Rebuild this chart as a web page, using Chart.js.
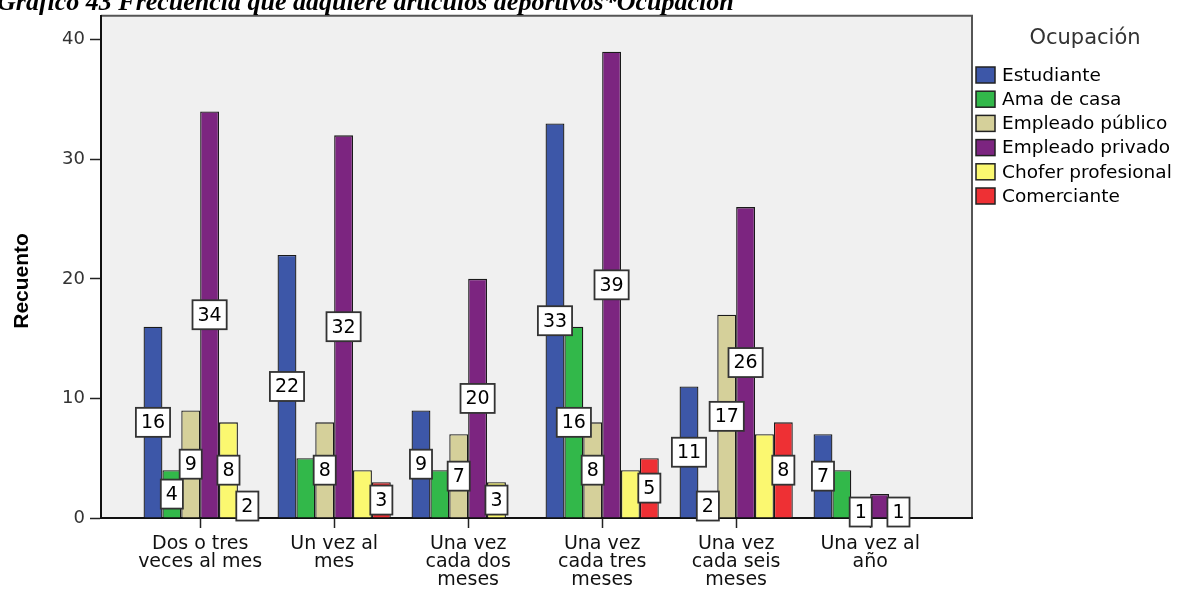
<!DOCTYPE html>
<html>
<head>
<meta charset="utf-8">
<script src="https://cdn.jsdelivr.net/npm/chart.js@4/dist/chart.umd.min.js"></script>
<style>
  html, body { margin: 0; padding: 0; background: #ffffff; }
  #wrap { width: 1196px; height: 589px; position: relative; }
</style>
</head>
<body>
<div id="wrap"><canvas id="c" width="1196" height="589"></canvas></div>
<script>
// ---- Data ----
const categories = [
  ["Dos o tres", "veces al mes"],
  ["Un vez al", "mes"],
  ["Una vez", "cada dos", "meses"],
  ["Una vez", "cada tres", "meses"],
  ["Una vez", "cada seis", "meses"],
  ["Una vez al", "año"]
];
const seriesNames = ["Estudiante", "Ama de casa", "Empleado público", "Empleado privado", "Chofer profesional", "Comerciante"];
const estudiante  = [16, 22, 9, 33, 11, 7];
const amaDeCasa   = [4, 5, 4, 16, 2, 4];
const empPublico  = [9, 8, 7, 8, 17, 1];
const empPrivado  = [34, 32, 20, 39, 26, 2];
const chofer      = [8, 4, 3, 4, 7, 1];
const comerciante = [2, 3, 0, 5, 8, 0];
// which value labels are shown in the reference (1 = shown)
const showEstudiante  = [1, 1, 1, 1, 1, 1];
const showAmaDeCasa   = [1, 0, 0, 1, 1, 0];
const showEmpPublico  = [1, 1, 1, 1, 1, 1];
const showEmpPrivado  = [1, 1, 1, 1, 1, 0];
const showChofer      = [1, 0, 1, 0, 0, 1];
const showComerciante = [1, 1, 0, 1, 1, 0];
const yTicks = [0, 10, 20, 30, 40];
const titleText = "Gráfico 43 Frecuencia que adquiere artículos deportivos*Ocupación";
const yTitle = "Recuento";
const legendTitle = "Ocupación";

// ---- Styles ----
const colors = ["#3d57a8", "#32b84a", "#d5d09a", "#7c2580", "#fbf870", "#ee3034"];
const allSeries = [estudiante, amaDeCasa, empPublico, empPrivado, chofer, comerciante];
const allShow = [showEstudiante, showAmaDeCasa, showEmpPublico, showEmpPrivado, showChofer, showComerciante];

const datasets = allSeries.map((vals, s) => ({
  label: seriesNames[s],
  data: vals.map((v, i) => ({ x: i, y: v })),
  backgroundColor: colors[s],
  borderColor: "#1a1a1a",
  borderWidth: 1.3,
  borderSkipped: "bottom",
  categoryPercentage: 0.845,
  barPercentage: 1.0
}));

const FONT = "'DejaVu Sans', 'Liberation Sans', Arial, sans-serif";
const AFONT = "'Liberation Sans', Arial, sans-serif";

const framePlugin = {
  id: "frame",
  beforeDraw(chart) {
    const { ctx, chartArea: a } = chart;
    ctx.save();
    ctx.fillStyle = "#ffffff";
    ctx.fillRect(0, 0, chart.width, chart.height);
    ctx.fillStyle = "#f0f0f0";
    ctx.fillRect(a.left, a.top, a.right - a.left, a.bottom - a.top);
    ctx.strokeStyle = "#555555";
    ctx.lineWidth = 2;
    ctx.beginPath();
    ctx.moveTo(a.left, a.top);
    ctx.lineTo(a.right, a.top);
    ctx.lineTo(a.right, a.bottom);
    ctx.stroke();
    ctx.restore();
  },
  afterDraw(chart) {
    const { ctx, chartArea: a } = chart;
    ctx.save();
    // title (cut at top like the reference)
    ctx.fillStyle = "#000";
    ctx.font = "italic bold 26px 'Liberation Serif', 'Times New Roman', serif";
    ctx.textBaseline = "alphabetic";
    ctx.textAlign = "left";
    ctx.fillText(titleText, -3, 10);
    // y axis title
    ctx.translate(22, (a.top + a.bottom) / 2 + 14);
    ctx.rotate(-Math.PI / 2);
    ctx.font = "bold 21px " + AFONT;
    ctx.textAlign = "center";
    ctx.textBaseline = "middle";
    ctx.fillText(yTitle, 0, 0);
    ctx.restore();

    // legend
    ctx.save();
    ctx.fillStyle = "#333";
    ctx.font = "21px " + FONT;
    ctx.textAlign = "center";
    ctx.textBaseline = "middle";
    ctx.fillText(legendTitle, 1085, 39);
    ctx.font = "18.5px " + FONT;
    ctx.textAlign = "left";
    seriesNames.forEach((name, s) => {
      const cy = 75 + s * 24.2;
      ctx.fillStyle = colors[s];
      ctx.fillRect(976, cy - 8, 19, 16);
      ctx.strokeStyle = "#222";
      ctx.lineWidth = 1.5;
      ctx.strokeRect(976, cy - 8, 19, 16);
      ctx.fillStyle = "#000";
      ctx.fillText(name, 1002, cy + 1);
    });
    ctx.restore();
  },
  afterDatasetsDraw(chart) {
    const { ctx } = chart;
    const y = chart.scales.y;
    ctx.save();
    ctx.font = "19px " + FONT;
    ctx.textAlign = "center";
    ctx.textBaseline = "middle";
    chart.data.datasets.forEach((ds, s) => {
      const meta = chart.getDatasetMeta(s);
      ds.data.forEach((pt, i) => {
        if (!allShow[s][i] || !pt.y) return;
        const bar = meta.data[i];
        const cx = bar.x;
        const cy = y.getPixelForValue(pt.y / 2);
        const txt = String(pt.y);
        const w = ctx.measureText(txt).width + 10;
        const h = 29;
        ctx.fillStyle = "#ffffff";
        ctx.fillRect(cx - w / 2, cy - h / 2, w, h);
        ctx.strokeStyle = "#333";
        ctx.lineWidth = 1.8;
        ctx.strokeRect(cx - w / 2, cy - h / 2, w, h);
        ctx.fillStyle = "#000";
        ctx.fillText(txt, cx, cy + 1);
      });
    });
    ctx.restore();
  }
};

new Chart(document.getElementById("c"), {
  type: "bar",
  data: { datasets },
  options: {
    responsive: false,
    animation: false,
    devicePixelRatio: 1,
    layout: { padding: { top: 14, right: 224, left: 0, bottom: 0 } },
    plugins: { legend: { display: false }, tooltip: { enabled: false }, title: { display: false } },
    scales: {
      x: {
        type: "linear",
        min: -0.74,
        max: 5.76,
        offset: false,
        afterFit(scale) { scale.height = 71; },
        afterBuildTicks(scale) { scale.ticks = categories.map((c, i) => ({ value: i })); },
        grid: { offset: false, drawOnChartArea: false, drawTicks: true, tickLength: 10, tickColor: "#222", tickWidth: 1.5 },
        border: { display: true, color: "#111", width: 2 },
        ticks: {
          autoSkip: false,
          maxRotation: 0,
          padding: 7,
          color: "#111",
          font: { family: FONT, size: 19, lineHeight: 0.95 },
          callback: (v) => categories[v] || ""
        }
      },
      y: {
        min: 0,
        max: 42,
        afterFit(scale) { scale.width = 101; },
        afterBuildTicks(scale) { scale.ticks = yTicks.map(v => ({ value: v })); },
        grid: { drawOnChartArea: false, drawTicks: true, tickLength: 11, tickColor: "#222", tickWidth: 1.5 },
        border: { display: true, color: "#111", width: 2 },
        ticks: {
          padding: 5,
          color: "#333",
          font: { family: FONT, size: 18 },
          callback: (v) => String(v)
        }
      }
    }
  },
  plugins: [framePlugin]
});
</script>
</body>
</html>
